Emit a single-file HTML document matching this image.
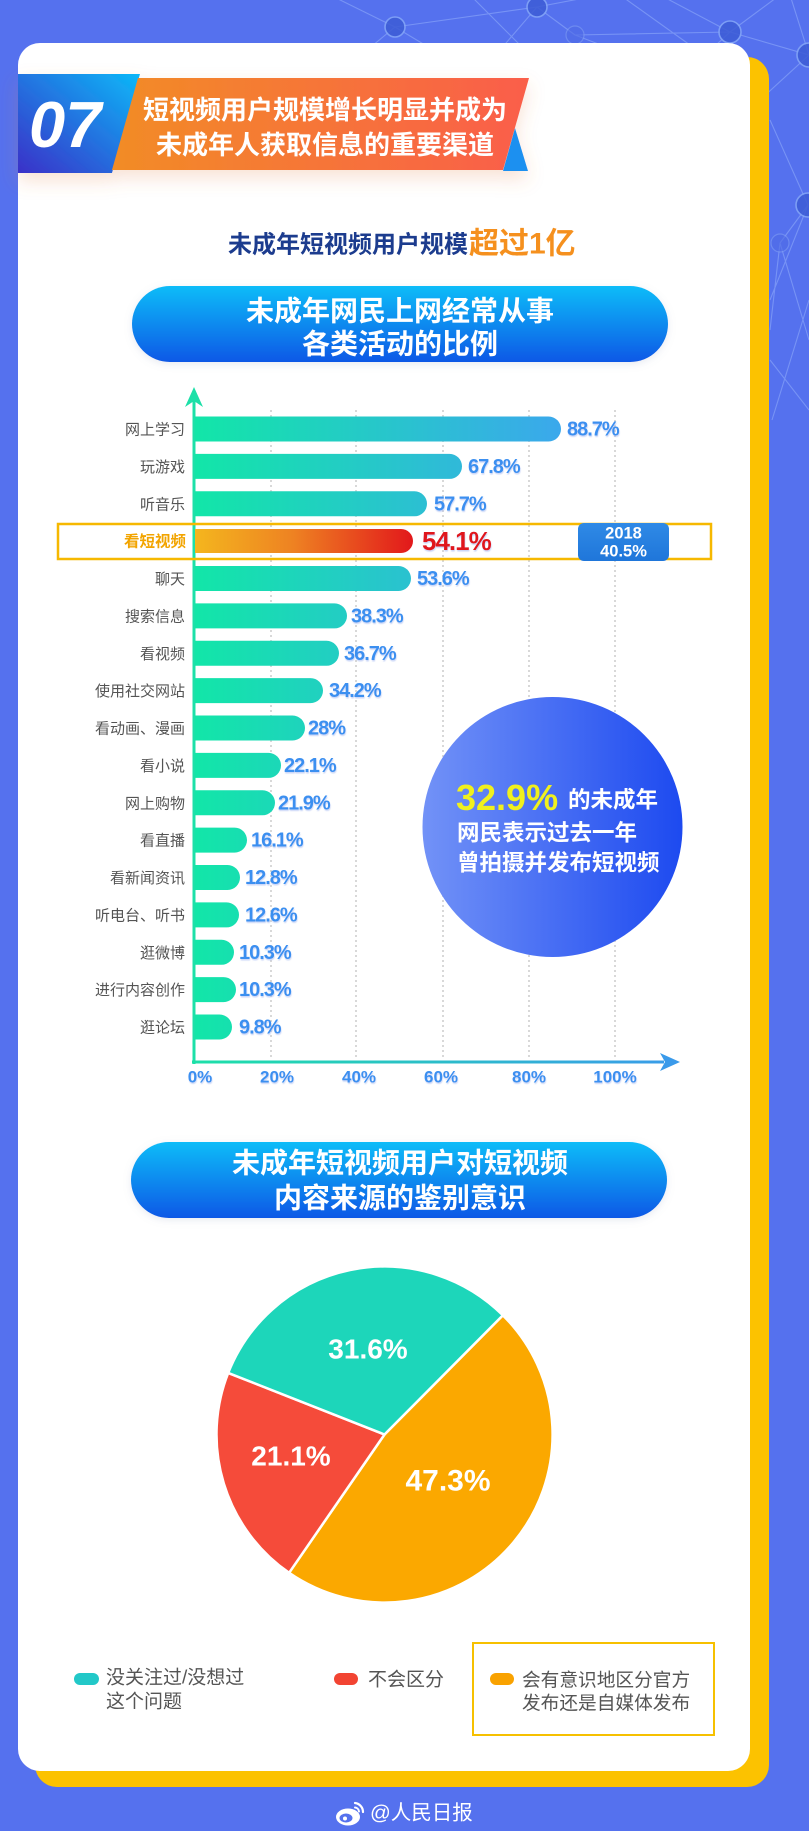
<!DOCTYPE html>
<html lang="zh">
<head>
<meta charset="utf-8">
<style>
  html,body{margin:0;padding:0;}
  body{width:809px;height:1831px;overflow:hidden;background:#5571ee;position:relative;}
  svg{position:absolute;left:0;top:0;}
  text{font-family:"Liberation Sans","Noto Sans CJK SC",sans-serif;}
</style>
</head>
<body>
<svg width="809" height="1831" viewBox="0 0 809 1831" xmlns="http://www.w3.org/2000/svg">
  <defs>
    <linearGradient id="gBlueBlock" x1="0" y1="1" x2="1" y2="0">
      <stop offset="0" stop-color="#3a30c8"/>
      <stop offset="1" stop-color="#0cb8f8"/>
    </linearGradient>
    <linearGradient id="gOrange" x1="0" y1="0" x2="1" y2="0">
      <stop offset="0" stop-color="#f28c26"/>
      <stop offset="1" stop-color="#fa5e4a"/>
    </linearGradient>
    <linearGradient id="gPill" x1="0" y1="0" x2="0" y2="1">
      <stop offset="0" stop-color="#10bcf8"/>
      <stop offset="1" stop-color="#0a58e6"/>
    </linearGradient>
    <linearGradient id="gBar" gradientUnits="userSpaceOnUse" x1="195" y1="0" x2="561" y2="0">
      <stop offset="0" stop-color="#12e6a8"/>
      <stop offset="1" stop-color="#3ba8ec"/>
    </linearGradient>
    <linearGradient id="gRed" gradientUnits="userSpaceOnUse" x1="195" y1="0" x2="413" y2="0">
      <stop offset="0" stop-color="#f4b61e"/>
      <stop offset="0.45" stop-color="#ee8222"/>
      <stop offset="1" stop-color="#e2181b"/>
    </linearGradient>
    <linearGradient id="gXAxis" gradientUnits="userSpaceOnUse" x1="192" y1="0" x2="680" y2="0">
      <stop offset="0" stop-color="#1de0a8"/>
      <stop offset="1" stop-color="#3a9aea"/>
    </linearGradient>
    <linearGradient id="gCircle" x1="0" y1="0" x2="1" y2="0">
      <stop offset="0" stop-color="#7292f7"/>
      <stop offset="1" stop-color="#1d4af0"/>
    </linearGradient>
    <linearGradient id="g2018" x1="0" y1="0" x2="0" y2="1">
      <stop offset="0" stop-color="#2f8ae6"/>
      <stop offset="1" stop-color="#1f76da"/>
    </linearGradient>
    <filter id="fShadow" x="-20%" y="-40%" width="140%" height="200%">
      <feDropShadow dx="0" dy="8" stdDeviation="9" flood-color="#e07a40" flood-opacity="0.22"/>
    </filter>
    <filter id="fPillShadow" x="-10%" y="-30%" width="120%" height="160%">
      <feDropShadow dx="0" dy="2" stdDeviation="4" flood-color="#7a8ab0" flood-opacity="0.18"/>
    </filter>
    <filter id="fTxt" x="-10%" y="-20%" width="120%" height="150%">
      <feDropShadow dx="0.5" dy="1.5" stdDeviation="0.6" flood-color="#9fb4f0" flood-opacity="0.55"/>
    </filter>
  </defs>

  <!-- background network -->
  <g stroke="#a6c4ff" stroke-opacity="0.42" stroke-width="1.1" fill="none">
    <path d="M395,27 L537,7 M395,27 L330,-5 M395,27 L450,60 M395,27 L355,60 M537,7 L575,35 M537,7 L600,-5 M537,7 L500,50 M575,35 L730,32 M575,35 L640,60 M730,32 L660,-5 M730,32 L809,55 M730,32 L700,60 M730,32 L780,-5 M809,55 L760,100 M809,55 L790,-5 M470,-5 L520,45 M620,-5 L690,45 M770,120 L808,205 M808,205 L770,300 M808,205 L780,243 M780,243 L770,330 M780,243 L809,340 M809,300 L772,420 M770,360 L809,410"/>
  </g>
  <g fill="#3d5cd6" stroke="#84a6f7" stroke-width="1.6" opacity="0.85">
    <circle cx="395" cy="27" r="10"/>
    <circle cx="537" cy="7" r="10"/>
    <circle cx="730" cy="32" r="11"/>
    <circle cx="809" cy="55" r="12"/>
    <circle cx="808" cy="205" r="12"/>
  </g>
  <g fill="#4f6be6" stroke="#7e9cf2" stroke-width="1.2" opacity="0.6">
    <circle cx="575" cy="35" r="9"/>
    <circle cx="780" cy="243" r="9"/>
  </g>

  <!-- yellow backing + white card -->
  <rect x="35" y="57" width="734" height="1730" rx="22" fill="#fcc200"/>
  <rect x="18" y="43" width="732" height="1728" rx="22" fill="#ffffff"/>

  <!-- header ribbon -->
  <g filter="url(#fShadow)">
    <polygon points="515,128 528,171 503,171" fill="#1a90f0"/>
    <polygon points="18,74 140,74 112,173 18,173" fill="url(#gBlueBlock)"/>
    <polygon points="138,78 529,78 503,170 112,170" fill="url(#gOrange)"/>
  </g>
  <text x="29" y="147" font-size="65" font-weight="700" font-style="italic" fill="#ffffff">07</text>
  <text x="325" y="110" font-size="26" font-weight="700" fill="#ffffff" text-anchor="middle" dominant-baseline="central">短视频用户规模增长明显并成为</text>
  <text x="325" y="145" font-size="26" font-weight="700" fill="#ffffff" text-anchor="middle" dominant-baseline="central">未成年人获取信息的重要渠道</text>

  <!-- subtitle -->
  <text x="228" y="245" font-size="24" font-weight="700" fill="#1c3c8e" dominant-baseline="central">未成年短视频用户规模</text>
  <text x="469" y="244" font-size="30" font-weight="700" fill="#f5901e" dominant-baseline="central">超过1亿</text>

  <!-- pill 1 -->
  <rect x="132" y="286" width="536" height="76" rx="38" fill="url(#gPill)" filter="url(#fPillShadow)"/>
  <text x="400" y="311" font-size="28" font-weight="700" fill="#ffffff" text-anchor="middle" dominant-baseline="central">未成年网民上网经常从事</text>
  <text x="400" y="344" font-size="28" font-weight="700" fill="#ffffff" text-anchor="middle" dominant-baseline="central">各类活动的比例</text>

  <!-- gridlines -->
  <g stroke="#cfcfcf" stroke-width="1.6" stroke-dasharray="2 3">
    <line x1="271" y1="410" x2="271" y2="1060"/>
    <line x1="356" y1="410" x2="356" y2="1060"/>
    <line x1="443" y1="410" x2="443" y2="1060"/>
    <line x1="529" y1="410" x2="529" y2="1060"/>
    <line x1="615" y1="410" x2="615" y2="1060"/>
  </g>

  <!-- axes -->
  <rect x="192.5" y="398" width="3" height="666" fill="#1de0a8"/>
  <polygon points="194,387 203,407 194,401 185,407" fill="#1de0a8"/>
  <rect x="192" y="1060.5" width="472" height="3" fill="url(#gXAxis)"/>
  <polygon points="680,1062 660,1053 665,1062 660,1071" fill="#3a9aea"/>

  <!-- bars -->
  <g fill="url(#gBar)">
    <path d="M195,416.5 H548.5 A12.5,12.5 0 0 1 548.5,441.5 H195 Z"/>
    <path d="M195,453.9 H449.5 A12.5,12.5 0 0 1 449.5,478.9 H195 Z"/>
    <path d="M195,491.3 H414.5 A12.5,12.5 0 0 1 414.5,516.3 H195 Z"/>
    <path d="M195,566.0 H398.5 A12.5,12.5 0 0 1 398.5,591.0 H195 Z"/>
    <path d="M195,603.4 H334.5 A12.5,12.5 0 0 1 334.5,628.4 H195 Z"/>
    <path d="M195,640.8 H326.5 A12.5,12.5 0 0 1 326.5,665.8 H195 Z"/>
    <path d="M195,678.1 H310.5 A12.5,12.5 0 0 1 310.5,703.1 H195 Z"/>
    <path d="M195,715.5 H292.5 A12.5,12.5 0 0 1 292.5,740.5 H195 Z"/>
    <path d="M195,752.9 H268.5 A12.5,12.5 0 0 1 268.5,777.9 H195 Z"/>
    <path d="M195,790.3 H262.5 A12.5,12.5 0 0 1 262.5,815.3 H195 Z"/>
    <path d="M195,827.6 H234.5 A12.5,12.5 0 0 1 234.5,852.6 H195 Z"/>
    <path d="M195,865.0 H227.5 A12.5,12.5 0 0 1 227.5,890.0 H195 Z"/>
    <path d="M195,902.4 H226.5 A12.5,12.5 0 0 1 226.5,927.4 H195 Z"/>
    <path d="M195,939.8 H221.5 A12.5,12.5 0 0 1 221.5,964.8 H195 Z"/>
    <path d="M195,977.1 H223.5 A12.5,12.5 0 0 1 223.5,1002.1 H195 Z"/>
    <path d="M195,1014.5 H219.5 A12.5,12.5 0 0 1 219.5,1039.5 H195 Z"/>
  </g>
  <path d="M195,529 H401 A12,12 0 0 1 401,553 H195 Z" fill="url(#gRed)"/>

  <!-- highlight box -->
  <rect x="58" y="524" width="653" height="35" fill="none" stroke="#f6b800" stroke-width="2.5"/>
  <rect x="578" y="523" width="91" height="38" rx="6" fill="url(#g2018)"/>
  <text x="623.5" y="533.5" font-size="16.5" font-weight="700" fill="#ffffff" text-anchor="middle" dominant-baseline="central">2018</text>
  <text x="623.5" y="551.5" font-size="16.5" font-weight="700" fill="#ffffff" text-anchor="middle" dominant-baseline="central">40.5%</text>

  <!-- category labels -->
  <g font-size="15" fill="#545454" text-anchor="end" dominant-baseline="central">
    <text x="185" y="430">网上学习</text>
    <text x="185" y="467.4">玩游戏</text>
    <text x="185" y="504.8">听音乐</text>
    <text x="185" y="579.5">聊天</text>
    <text x="185" y="616.9">搜索信息</text>
    <text x="185" y="654.3">看视频</text>
    <text x="185" y="691.6">使用社交网站</text>
    <text x="185" y="729">看动画、漫画</text>
    <text x="185" y="766.4">看小说</text>
    <text x="185" y="803.8">网上购物</text>
    <text x="185" y="841.1">看直播</text>
    <text x="185" y="878.5">看新闻资讯</text>
    <text x="185" y="915.9">听电台、听书</text>
    <text x="185" y="953.3">逛微博</text>
    <text x="185" y="990.6">进行内容创作</text>
    <text x="185" y="1028">逛论坛</text>
  </g>
  <text x="186" y="542" font-size="15.5" font-weight="700" fill="#f2a400" text-anchor="end" dominant-baseline="central">看短视频</text>

  <!-- value labels -->
  <g font-size="20" font-weight="700" fill="#3b8ff0" dominant-baseline="central" style="letter-spacing:-1px" filter="url(#fTxt)">
    <text x="567" y="429.5">88.7%</text>
    <text x="468" y="466.9">67.8%</text>
    <text x="434" y="504.3">57.7%</text>
    <text x="417" y="579">53.6%</text>
    <text x="351" y="616.4">38.3%</text>
    <text x="344" y="653.8">36.7%</text>
    <text x="329" y="691.1">34.2%</text>
    <text x="308" y="728.5">28%</text>
    <text x="284" y="765.9">22.1%</text>
    <text x="278" y="803.3">21.9%</text>
    <text x="251" y="840.6">16.1%</text>
    <text x="245" y="878">12.8%</text>
    <text x="245" y="915.4">12.6%</text>
    <text x="239" y="952.8">10.3%</text>
    <text x="239" y="990.1">10.3%</text>
    <text x="239" y="1027.5">9.8%</text>
  </g>
  <text x="422" y="541" font-size="26" font-weight="700" fill="#e0181e" dominant-baseline="central" style="letter-spacing:-1px" filter="url(#fTxt)">54.1%</text>

  <!-- x labels -->
  <g font-size="17" font-weight="700" fill="#3b8ff0" text-anchor="middle" dominant-baseline="central" filter="url(#fTxt)">
    <text x="200" y="1077">0%</text>
    <text x="277" y="1077">20%</text>
    <text x="359" y="1077">40%</text>
    <text x="441" y="1077">60%</text>
    <text x="529" y="1077">80%</text>
    <text x="615" y="1077">100%</text>
  </g>

  <!-- circle callout -->
  <circle cx="552.5" cy="827" r="130" fill="url(#gCircle)"/>
  <text x="456" y="810" font-size="36" font-weight="700" fill="#f0f01e">32.9%</text>
  <text x="568" y="800" font-size="22.5" font-weight="700" fill="#ffffff" dominant-baseline="central">的未成年</text>
  <text x="457" y="833" font-size="22.5" font-weight="700" fill="#ffffff" dominant-baseline="central">网民表示过去一年</text>
  <text x="457" y="863" font-size="22.5" font-weight="700" fill="#ffffff" dominant-baseline="central">曾拍摄并发布短视频</text>

  <!-- pill 2 -->
  <rect x="131" y="1142" width="536" height="76" rx="38" fill="url(#gPill)" filter="url(#fPillShadow)"/>
  <text x="400" y="1163" font-size="28" font-weight="700" fill="#ffffff" text-anchor="middle" dominant-baseline="central">未成年短视频用户对短视频</text>
  <text x="400" y="1198" font-size="28" font-weight="700" fill="#ffffff" text-anchor="middle" dominant-baseline="central">内容来源的鉴别意识</text>

  <!-- pie -->
  <g stroke="#ffffff" stroke-width="2.5" stroke-linejoin="round">
    <path d="M384.5,1434.5 L502.9,1315.3 A168,168 0 0 1 289.1,1572.8 Z" fill="#fba800"/>
    <path d="M384.5,1434.5 L289.1,1572.8 A168,168 0 0 1 228.2,1372.9 Z" fill="#f54b3a"/>
    <path d="M384.5,1434.5 L228.2,1372.9 A168,168 0 0 1 502.9,1315.3 Z" fill="#1dd6ba"/>
  </g>
  <g font-weight="700" fill="#ffffff" text-anchor="middle" dominant-baseline="central">
    <text x="368" y="1349" font-size="28">31.6%</text>
    <text x="291" y="1456" font-size="28">21.1%</text>
    <text x="448" y="1481" font-size="30">47.3%</text>
  </g>

  <!-- legend -->
  <rect x="74" y="1673" width="25" height="12" rx="6" fill="#22c8c8"/>
  <text x="106" y="1678" font-size="19" fill="#555555" dominant-baseline="central">没关注过/没想过</text>
  <text x="106" y="1702" font-size="19" fill="#555555" dominant-baseline="central">这个问题</text>
  <rect x="334" y="1673" width="24" height="12" rx="6" fill="#f24432"/>
  <text x="368" y="1680" font-size="19" fill="#555555" dominant-baseline="central">不会区分</text>
  <rect x="473" y="1643" width="241" height="92" fill="none" stroke="#f6c000" stroke-width="2"/>
  <rect x="490" y="1673" width="24" height="12" rx="6" fill="#f9a200"/>
  <text x="522" y="1680" font-size="18.7" fill="#555555" dominant-baseline="central">会有意识地区分官方</text>
  <text x="522" y="1703" font-size="18.7" fill="#555555" dominant-baseline="central">发布还是自媒体发布</text>

  <!-- footer weibo -->
  <g>
    <ellipse cx="348" cy="1817" rx="12" ry="8.5" fill="#ffffff"/>
    <ellipse cx="346" cy="1818" rx="6.5" ry="4.5" fill="#5571ee"/>
    <circle cx="345" cy="1818.5" r="2" fill="#ffffff"/>
    <path d="M355,1803 A9,9 0 0 1 363,1812" stroke="#ffffff" stroke-width="2.2" fill="none" stroke-linecap="round"/>
    <path d="M355,1807.5 A4.5,4.5 0 0 1 359,1811.5" stroke="#ffffff" stroke-width="2" fill="none" stroke-linecap="round"/>
  </g>
  <text x="370" y="1813" font-size="20.5" fill="#ffffff" dominant-baseline="central">@人民日报</text>
</svg>
</body>
</html>
